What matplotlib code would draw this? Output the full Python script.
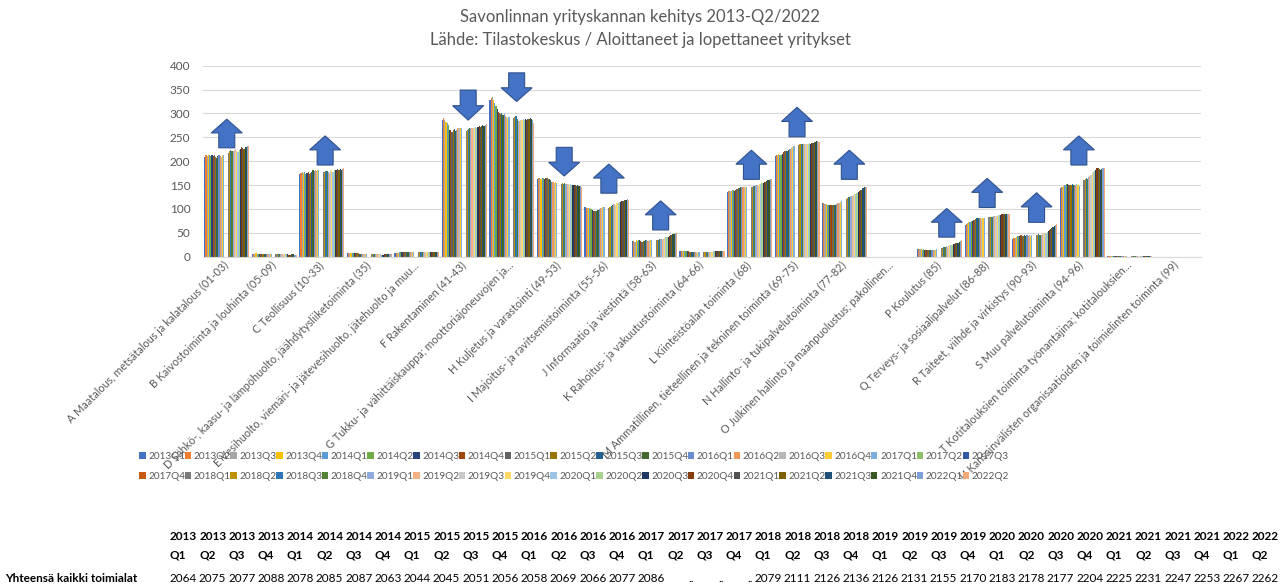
import numpy as np
import matplotlib
matplotlib.use("Agg")
import matplotlib.pyplot as plt
from matplotlib.patches import Polygon

plt.rcParams['font.family'] = ['Lato', 'DejaVu Sans']

# Neljännekset 2013Q1 - 2022Q2 (38 sarjaa)
quarters = [f"{y}Q{q}" for y in range(2013, 2023) for q in range(1, 5)][:38]

categories = [
    "A Maatalous, metsätalous ja kalatalous (01-03)",
    "B Kaivostoiminta ja louhinta (05-09)",
    "C Teollisuus (10-33)",
    "D Sähkö-, kaasu- ja lämpöhuolto, jäähdytysliiketoiminta (35)",
    "E Vesihuolto, viemäri- ja jätevesihuolto, jätehuolto ja muu...",
    "F Rakentaminen (41-43)",
    "G Tukku- ja vähittäiskauppa; moottoriajoneuvojen ja...",
    "H Kuljetus ja varastointi (49-53)",
    "I Majoitus- ja ravitsemistoiminta (55-56)",
    "J Informaatio ja viestintä (58-63)",
    "K Rahoitus- ja vakuutustoiminta (64-66)",
    "L Kiinteistöalan toiminta (68)",
    "M Ammatillinen, tieteellinen ja tekninen toiminta (69-75)",
    "N Hallinto- ja tukipalvelutoiminta (77-82)",
    "O Julkinen hallinto ja maanpuolustus; pakollinen...",
    "P Koulutus (85)",
    "Q Terveys- ja sosiaalipalvelut (86-88)",
    "R Taiteet, viihde ja virkistys (90-93)",
    "S Muu palvelutoiminta (94-96)",
    "T Kotitalouksien toiminta työnantajina; kotitalouksien...",
    "U Kansainvälisten organisaatioiden ja toimielinten toiminta (99)",
]

# 2017Q2-2017Q4 puuttuu (..)
gap = [np.nan] * 3

val_A = [208, 212, 210, 213, 212, 210, 212, 211, 212, 209, 207, 211, 213, 211, 209, 212, 213] + gap + \
        [218, 222, 223, 221, 222, 224, 225, 222, 220, 224, 226, 229, 228, 226, 229, 230, 231, 232]
val_B = [6, 6, 6, 7, 6, 6, 6, 6, 6, 6, 6, 6, 6, 6, 6, 6, 5] + gap + \
        [6, 5, 5, 5, 5, 5, 5, 5, 5, 5, 5, 4, 4, 5, 5, 5, 4, 4]
val_C = [174, 176, 177, 175, 178, 173, 176, 177, 174, 175, 178, 181, 180, 181, 179, 181, 182] + gap + \
        [177, 178, 180, 179, 177, 176, 180, 181, 178, 182, 182, 181, 183, 182, 183, 182, 183, 185]
val_D = [7, 7, 7, 7, 7, 7, 7, 7, 7, 7, 6, 6, 6, 6, 6, 6, 6] + gap + \
        [5, 5, 5, 5, 5, 5, 5, 5, 5, 4, 4, 5, 5, 5, 5, 5, 5, 5]
val_E = [8, 8, 8, 8, 9, 9, 9, 9, 9, 9, 9, 9, 9, 9, 9, 9, 9] + gap + \
        [9, 9, 9, 9, 9, 9, 9, 9, 9, 9, 9, 9, 9, 9, 9, 9, 9, 9]
val_F = [287, 291, 287, 282, 281, 275, 266, 265, 262, 266, 268, 264, 266, 270, 270, 269, 270] + gap + \
        [263, 266, 268, 269, 270, 270, 269, 270, 272, 270, 271, 273, 271, 273, 275, 274, 276, 277]
val_G = [328, 332, 335, 328, 322, 316, 310, 303, 300, 299, 300, 296, 298, 295, 293, 290, 292] + gap + \
        [290, 292, 294, 288, 285, 284, 287, 287, 288, 287, 288, 287, 288, 289, 290, 289, 287, 280]
val_H = [163, 164, 164, 163, 164, 165, 163, 165, 164, 162, 163, 160, 157, 156, 155, 156, 155] + gap + \
        [153, 154, 153, 154, 153, 152, 152, 151, 152, 151, 150, 150, 150, 149, 150, 149, 148, 146]
val_I = [104, 103, 102, 103, 101, 100, 98, 96, 95, 95, 96, 98, 100, 102, 101, 104, 105] + gap + \
        [103, 105, 106, 108, 110, 110, 109, 112, 113, 114, 115, 117, 117, 118, 119, 118, 120, 119]
val_J = [33, 32, 31, 34, 33, 35, 34, 32, 31, 32, 33, 34, 35, 33, 34, 35, 35] + gap + \
        [34, 35, 36, 37, 37, 38, 38, 40, 41, 42, 42, 44, 45, 46, 47, 48, 49, 49]
val_K = [11, 11, 11, 12, 11, 12, 11, 11, 10, 10, 10, 9, 9, 9, 9, 8, 9] + gap + \
        [9, 9, 9, 10, 10, 10, 10, 10, 11, 11, 11, 11, 12, 12, 12, 12, 12, 12]
val_L = [135, 137, 138, 138, 139, 139, 138, 140, 142, 143, 144, 145, 145, 146, 146, 147, 146] + gap + \
        [146, 147, 148, 149, 150, 150, 151, 152, 153, 154, 155, 156, 157, 158, 160, 161, 162, 163]
val_M = [211, 213, 214, 215, 214, 213, 216, 219, 221, 222, 222, 224, 225, 226, 228, 230, 232] + gap + \
        [234, 235, 236, 237, 236, 236, 235, 236, 237, 238, 237, 238, 239, 240, 241, 242, 243, 240]
val_N = [113, 112, 111, 110, 109, 109, 108, 109, 108, 108, 108, 109, 110, 112, 113, 115, 116] + gap + \
        [120, 122, 124, 126, 127, 128, 130, 131, 132, 134, 136, 137, 139, 140, 143, 145, 147, 146]
val_O = [0] * 17 + gap + [0] * 18
val_P = [16, 16, 16, 16, 15, 16, 15, 15, 14, 13, 13, 14, 15, 14, 14, 15, 16] + gap + \
        [18, 19, 20, 21, 22, 21, 22, 24, 25, 25, 26, 27, 28, 28, 29, 30, 33, 34]
val_Q = [66, 68, 70, 72, 73, 74, 75, 76, 77, 78, 80, 80, 81, 80, 79, 81, 80] + gap + \
        [83, 83, 84, 84, 85, 85, 86, 86, 87, 87, 88, 89, 89, 90, 89, 90, 90, 89]
val_R = [38, 39, 40, 42, 43, 43, 44, 45, 44, 43, 45, 44, 46, 43, 45, 44, 45] + gap + \
        [46, 46, 47, 46, 46, 47, 48, 49, 50, 52, 54, 56, 58, 60, 62, 64, 66, 69]
val_S = [144, 146, 147, 148, 150, 152, 153, 151, 150, 151, 152, 151, 150, 151, 152, 150, 148] + gap + \
        [160, 163, 164, 163, 167, 169, 172, 175, 177, 180, 182, 186, 185, 183, 182, 184, 185, 186]
val_T = [2, 2, 2, 2, 2, 2, 2, 2, 2, 2, 2, 2, 2, 2, 2, 2, 2] + gap + \
        [1, 1, 1, 1, 1, 1, 1, 1, 1, 1, 1, 1, 1, 1, 1, 1, 1, 1]
val_U = [0] * 17 + gap + [0] * 18

# Yhteensä kaikki toimialat
totals = ["2064", "2075", "2077", "2088", "2078", "2085", "2087", "2063", "2044", "2045",
          "2051", "2056", "2058", "2069", "2066", "2077", "2086", "..", "..", "..",
          "2079", "2111", "2126", "2136", "2126", "2131", "2155", "2170", "2183", "2178",
          "2177", "2204", "2225", "2231", "2247", "2253", "2267", "2262"]

# Nuolet: (toimiala-indeksi, suunta, ala-arvo, yläarvo, x-siirto)
arrows = [(0, 'up', 228, 288, 0.0), (2, 'up', 192, 253, 0.07), (5, 'down', 286, 349, 0.08),
          (6, 'down', 325, 385, 0.1), (7, 'down', 169, 229, 0.1), (8, 'up', 133, 194, 0.04),
          (9, 'up', 56, 117, 0.13), (11, 'up', 162, 223, 0.04), (12, 'up', 251, 313, 0.0),
          (13, 'up', 162, 223, 0.1), (15, 'up', 41, 101, 0.15), (16, 'up', 103, 164, 0.0),
          (17, 'up', 72, 134, 0.04), (18, 'up', 192, 253, -0.07)]

colors = ['#4472C4', '#ED7D31', '#A5A5A5', '#FFC000', '#5B9BD5', '#70AD47',
          '#264478', '#9E480E', '#636363', '#997300', '#255E91', '#43682B',
          '#698ED0', '#F1975A', '#B7B7B7', '#FFCD33', '#7CAFDD', '#8CC168',
          '#335AA1', '#C55A11', '#7B7B7B', '#BF9000', '#2E75B6', '#548235',
          '#8FAADC', '#F4B183', '#C9C9C9', '#FFD966', '#9DC3E6', '#A9D18E',
          '#203864', '#843C0C', '#525252', '#7F6000', '#1F4E79', '#385723',
          '#7F9FD8', '#F3A878']

data = np.array([val_A, val_B, val_C, val_D, val_E, val_F, val_G, val_H, val_I, val_J, val_K,
                 val_L, val_M, val_N, val_O, val_P, val_Q, val_R, val_S, val_T, val_U], dtype=float)

W, H = 1288, 587
fig = plt.figure(figsize=(W / 100, H / 100), dpi=100)
ax = fig.add_axes([203 / W, 1 - 256.7 / H, (1201 - 203) / W, (256.7 - 65.7) / H])

x = np.arange(len(categories))
n = len(quarters)
bw = 0.947 / n
handles = []
for j in range(n):
    b = ax.bar(x + (j - (n - 1) / 2) * bw, data[:, j], width=bw, color=colors[j],
               linewidth=0, label=quarters[j])
    handles.append(b)

ax.set_xlim(-0.5, len(categories) - 0.5)
ax.set_ylim(0, 400)
ax.set_yticks(range(0, 401, 50))
ax.grid(axis='y', color='#D9D9D9', linewidth=0.8)
ax.set_axisbelow(True)
for s in ['top', 'right', 'left']:
    ax.spines[s].set_visible(False)
ax.spines['bottom'].set_color('#D9D9D9')
ax.tick_params(axis='y', length=0, pad=9, labelsize=8.5, labelcolor='#595959')
ax.tick_params(axis='x', length=0, pad=5)
ax.set_xticks(x)
ax.set_xticklabels(categories, rotation=45, ha='right', va='center', rotation_mode='anchor',
                   fontsize=7.8, color='#595959')

# nuolet
for ci, d, lo, hi, dx in arrows:
    cx = ci + dx
    hw, sw = 0.326, 0.168
    hl = (hi - lo) * 0.48
    if d == 'up':
        pts = [(cx - sw, lo), (cx + sw, lo), (cx + sw, hi - hl), (cx + hw, hi - hl),
               (cx, hi), (cx - hw, hi - hl), (cx - sw, hi - hl)]
    else:
        pts = [(cx - sw, hi), (cx + sw, hi), (cx + sw, lo + hl), (cx + hw, lo + hl),
               (cx, lo), (cx - hw, lo + hl), (cx - sw, lo + hl)]
    ax.add_patch(Polygon(pts, closed=True, facecolor='#4472C4', edgecolor='#2F528F',
                         linewidth=0.8, clip_on=False, zorder=5))

# selite rivi kerrallaan
half = n // 2
order = []
for k in range(half):
    order += [k, k + half]
leg = fig.legend([handles[i] for i in order], [quarters[i] for i in order],
                 loc='upper left', bbox_to_anchor=(139 / W, 1 - 452 / H, 870 / W, 0),
                 mode='expand', ncol=half, frameon=False, fontsize=7.2, borderpad=0,
                 handlelength=0.65, handleheight=0.65, handletextpad=0.25,
                 columnspacing=0.1, labelspacing=1.1, borderaxespad=0)
for t in leg.get_texts():
    t.set_color('#595959')

# otsikko
fig.text(640 / W, 1 - 17 / H, "Savonlinnan yrityskannan kehitys 2013-Q2/2022",
         ha='center', va='center', fontsize=12, color='#595959')
fig.text(640 / W, 1 - 40 / H, "Lähde: Tilastokeskus / Aloittaneet ja lopettaneet yritykset",
         ha='center', va='center', fontsize=12, color='#595959')

# taulukko alla
step = (1252 - 170) / 37
for i, q in enumerate(quarters):
    left = 170 + step * i
    fig.text(left / W, 1 - 537 / H, q[:4], ha='left', va='center', fontsize=8.5,
             fontweight='bold', color='black')
    fig.text(left / W, 1 - 555 / H, q[4:], ha='left', va='center', fontsize=8.5,
             fontweight='bold', color='black')
    fig.text((left + 27) / W, 1 - 578 / H, totals[i], ha='right', va='center',
             fontsize=8.5, color='black')
fig.text(5 / W, 1 - 578 / H, "Yhteensä kaikki toimialat", ha='left', va='center',
         fontsize=8.5, fontweight='bold', color='black')

fig.savefig("out.png", dpi=100)
